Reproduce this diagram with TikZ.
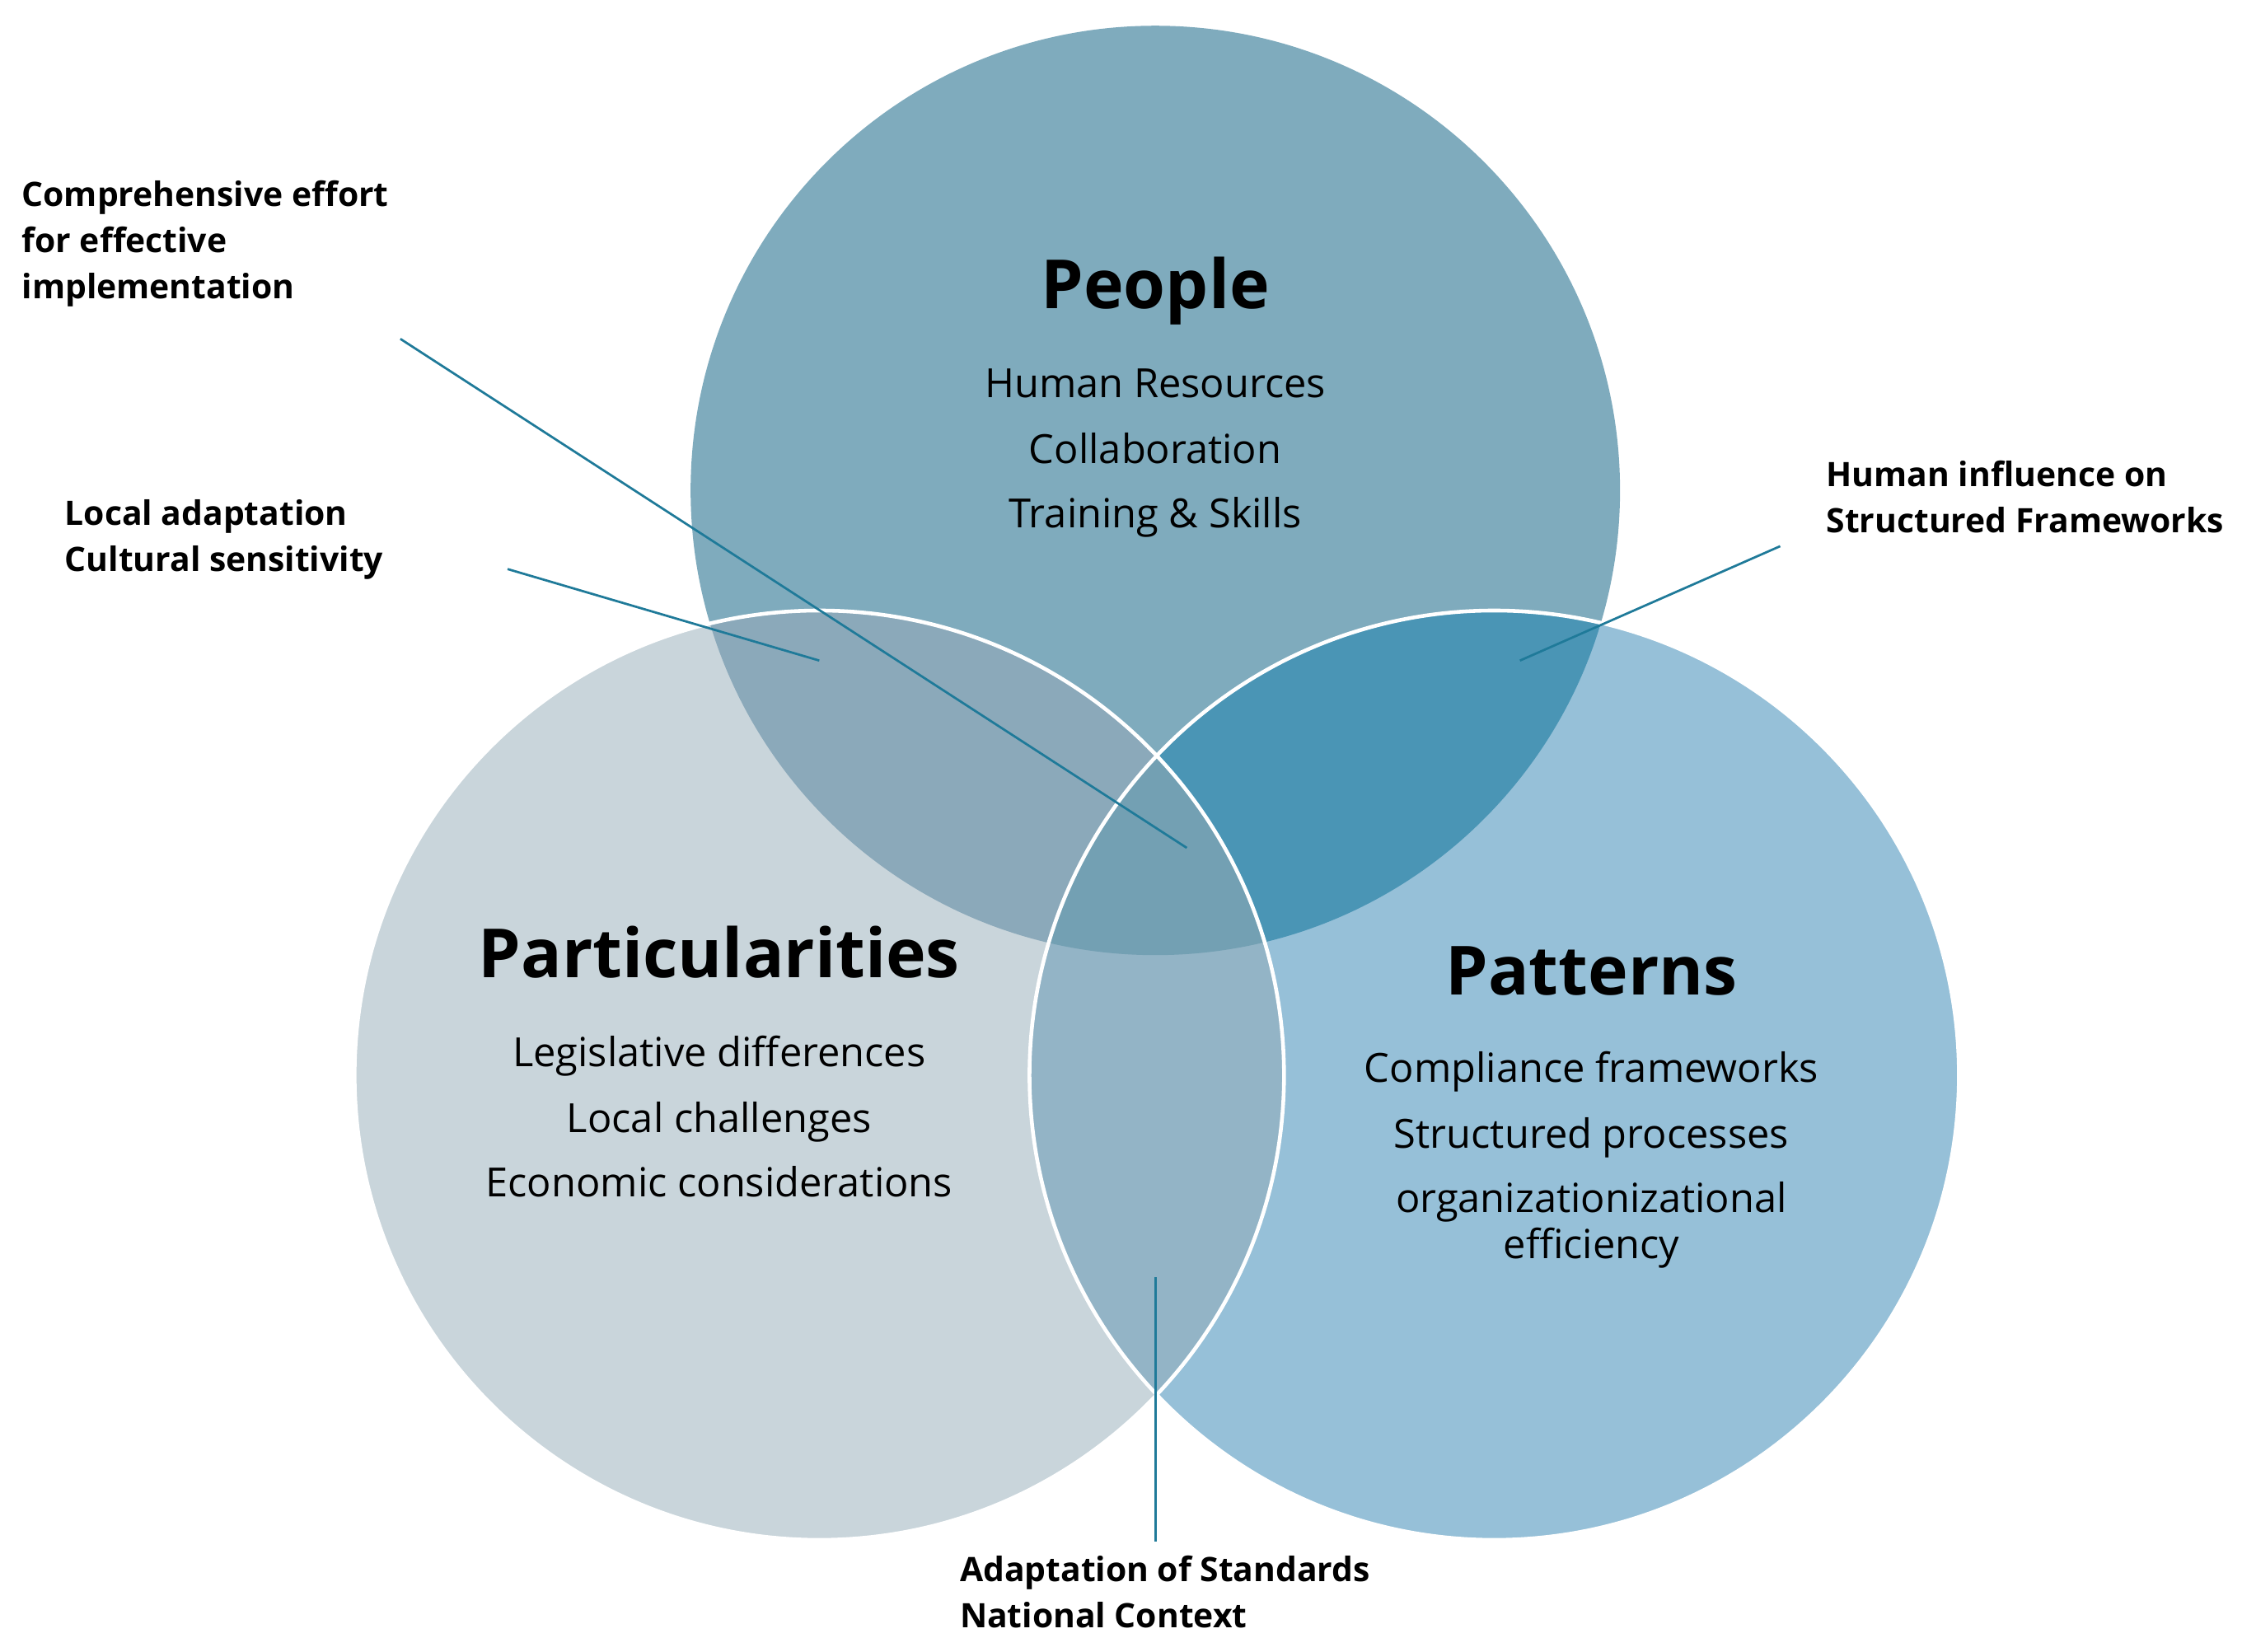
\documentclass[tikz,border=0pt]{standalone}
\usepackage{fontspec}
\setmainfont{Open Sans}
\begin{document}
\begin{tikzpicture}[x=0.02cm,y=-0.02cm,
  lbl/.style={font=\fontsize{13.4}{18.3}\selectfont\bfseries,align=left,inner sep=0},
  itm/.style={font=\fontsize{16}{19}\selectfont,inner sep=0,anchor=base},
  hd/.style={font=\fontsize{27}{30}\selectfont\bfseries,inner sep=0,anchor=base},
  ln/.style={draw=cA,line width=0.9pt}]
\definecolor{cPe}{HTML}{7FABBD}
\definecolor{cPa}{HTML}{C9D5DB}
\definecolor{cPt}{HTML}{96C0D8}
\definecolor{cPePa}{HTML}{8BA9BA}
\definecolor{cPePt}{HTML}{4A95B5}
\definecolor{cPaPt}{HTML}{93B4C6}
\definecolor{cAll}{HTML}{73A0B3}
\definecolor{cA}{HTML}{1F7A99}
\useasboundingbox (0,0) rectangle (1568,1155);
\def\R{325}
\coordinate (cpe) at (808,343);
\coordinate (cpa) at (573,752);
\coordinate (cpt) at (1045,752);
\fill[cPe] (cpe) circle (\R);
\fill[cPa] (cpa) circle (\R);
\fill[cPt] (cpt) circle (\R);
\begin{scope}\clip (cpe) circle (\R); \fill[cPePa] (cpa) circle (\R); \fill[cPePt] (cpt) circle (\R);\end{scope}
\begin{scope}\clip (cpa) circle (\R); \fill[cPaPt] (cpt) circle (\R);\end{scope}
\begin{scope}\clip (cpe) circle (\R); \clip (cpa) circle (\R); \fill[cAll] (cpt) circle (\R);\end{scope}
\draw[white,line width=1.5pt] (cpa) circle (\R) (cpt) circle (\R);

\node[hd] (hpe) at (808,216) {People};
\node[itm] (i1) at (808,278) {Human Resources};
\node[itm] (i2) at (808,324) {Collaboration};
\node[itm] (i3) at (808,369) {Training \& Skills};
\node[hd] (hpa) at (503,684) {Particularities};
\node[itm] (i4) at (503,746) {Legislative differences};
\node[itm] (i5) at (503,792) {Local challenges};
\node[itm] (i6) at (503,837) {Economic considerations};
\node[hd] (hpt) at (1113,696) {Patterns};
\node[itm] (i7) at (1113,757) {Compliance frameworks};
\node[itm] (i8) at (1113,803) {Structured processes};
\node[itm] (i9) at (1113,848) {organizationizational};
\node[itm] (i10) at (1113,880) {efficiency};

\node[lbl,anchor=north west] (l1) at (15,126) {Comprehensive effort\\for effective\\implementation};
\node[lbl,anchor=north west] (l2) at (45,349) {Local adaptation\\Cultural sensitivity};
\node[lbl,anchor=north west] (l3) at (1277,322) {Human influence on\\Structured Frameworks};
\node[lbl,anchor=north west] (l4) at (671,1088) {Adaptation of Standards\\National Context};

\coordinate (a1) at (280,237); \coordinate (b1) at (830,593);
\coordinate (a2) at (355,398); \coordinate (b2) at (573,462);
\coordinate (a3) at (1245,382); \coordinate (b3) at (1063,462);
\coordinate (a4) at (808,1078); \coordinate (b4) at (808,893);
\draw[ln] (a1)--(b1); \draw[ln] (a2)--(b2); \draw[ln] (a3)--(b3); \draw[ln] (a4)--(b4);
\end{tikzpicture}
\end{document}
